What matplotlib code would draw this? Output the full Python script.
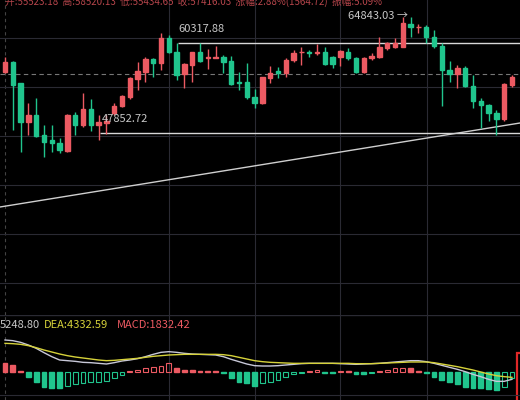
import matplotlib.pyplot as plt
import numpy as np
from matplotlib.patches import Rectangle

plt.rcParams['font.family'] = ['Noto Sans CJK SC', 'DejaVu Sans']

open_lv = [215, 185, 250, 365, 345, 405, 420, 428, 452, 345, 375, 328, 375, 370, 340, 318, 290, 237, 215,
           178, 190, 115, 155, 222, 195, 155, 175, 173, 170, 183, 247, 247, 290, 310, 233, 214, 218, 180,
           157, 155, 160, 155, 172, 172, 155, 173, 215, 175, 172, 143, 140, 140, 72, 82, 80, 112, 137, 210,
           222, 203, 258, 302, 315, 338, 358, 255]
close_lv = [185, 255, 365, 345, 408, 425, 430, 450, 345, 375, 328, 375, 367, 362, 318, 288, 235, 213, 178,
            188, 115, 157, 225, 193, 155, 182, 172, 170, 185, 252, 250, 290, 310, 232, 218, 220, 180, 160,
            155, 160, 155, 192, 192, 153, 173, 215, 175, 168, 142, 130, 130, 70, 82, 80, 112, 137, 210, 222,
            203, 258, 302, 315, 338, 358, 252, 232]
high_lv = [170, 183, 250, 308, 293, 375, 375, 415, 343, 335, 280, 298, 345, 345, 310, 285, 230, 185, 170,
           175, 100, 105, 130, 190, 155, 130, 148, 138, 165, 168, 215, 190, 268, 230, 198, 200, 175, 150,
           140, 150, 133, 140, 168, 150, 145, 170, 170, 160, 110, 125, 115, 50, 50, 72, 75, 90, 130, 182,
           195, 198, 225, 295, 312, 330, 250, 225]
low_lv = [220, 390, 455, 405, 410, 470, 455, 460, 455, 405, 380, 392, 420, 402, 345, 322, 298, 270, 245,
          230, 210, 160, 240, 265, 245, 185, 207, 175, 220, 255, 270, 298, 325, 312, 250, 235, 232, 185,
          195, 172, 165, 195, 205, 198, 180, 220, 218, 180, 175, 150, 145, 142, 112, 98, 130, 145, 318,
          245, 265, 262, 325, 385, 362, 405, 362, 260]

# price scale from the two labelled lines: 60317.88 at level 129, 47852.72 at level 399
p_per_lv = (60317.88 - 47852.72) / (399 - 129)
to_price = lambda lv: 60317.88 - (np.array(lv) - 129) * p_per_lv
opens, closes, highs, lows = map(to_price, (open_lv, close_lv, high_lv, low_lv))

# MACD panel readings (arbitrary units, positive = up)
dif = [95, 93, 88, 80, 70, 57, 45, 35, 33, 31, 28, 27, 25, 23, 27, 32, 35, 39, 45, 52, 58, 60, 58, 55,
       53, 52, 51, 50, 45, 37, 30, 23, 18, 17, 17, 18, 20, 22, 24, 25, 25, 25, 25, 24, 23, 22, 23, 24,
       25, 27, 29, 31, 33, 33, 30, 25, 19, 13, 7, 0, -8, -15, -23, -29, -29, -23]
dea = [85, 84, 82, 78, 72, 65, 59, 53, 48, 44, 41, 38, 35, 33, 34, 36, 38, 40, 43, 46, 48, 50, 51, 52,
       52, 52, 52, 52, 51, 48, 43, 38, 33, 30, 28, 27, 26, 25, 25, 25, 25, 25, 25, 25, 25, 24, 24, 24,
       25, 26, 27, 28, 29, 29, 29, 27, 23, 19, 15, 10, 5, -1, -7, -12, -15, -17]
hist = [25, 20, 3, -15, -30, -45, -50, -50, -42, -38, -35, -32, -30, -28, -18, -10, 3, 5, 10, 15, 18,
        25, 10, 5, 4, 3, 3, 2, -3, -20, -30, -35, -42, -35, -30, -25, -15, -6, -3, 3, 4, -3, -3, 3, 3,
        -8, -8, -3, 3, 5, 10, 12, 10, 3, -3, -15, -25, -30, -38, -45, -48, -50, -52, -55, -45, -20]

RED = '#ec5a62'
GREEN = '#20c58d'
GRID = '#2a2a33'

fig = plt.figure(figsize=(5.2, 4), dpi=100, facecolor='black')
ax = fig.add_axes([0, 1 - 315 / 400, 1, 315 / 400], facecolor='black')
mx = fig.add_axes([0, 0, 1, 85 / 400], facecolor='black')

n = len(opens)
x = np.arange(n)
for a in (ax, mx):
    a.set_xlim(-0.641, 66.03)
    for s in a.spines.values():
        s.set_visible(False)
    a.set_xticks([])
    a.set_yticks([])
    for gx in [21.0, 32.05, 42.95, 54.1]:
        a.axvline(gx, color=GRID, lw=0.8, zorder=0)
    a.axvline(0, color='#444', lw=0.8, ls=(0, (3, 3)), zorder=0)

ax.set_ylim(22646, 66274)
for gy in [61011, 54225, 47438, 40651, 33865, 27078]:
    ax.axhline(gy, color=GRID, lw=0.8, zorder=0)

# candles
for i in range(n):
    c = RED if closes[i] >= opens[i] else GREEN
    ax.vlines(x[i], lows[i], highs[i], color=c, lw=1, zorder=2)
    lo, hi = sorted([opens[i], closes[i]])
    ax.add_patch(Rectangle((x[i] - 0.28, lo), 0.56, max(hi - lo, 60), color=c, zorder=3))

# support / resistance and trend lines
ax.axhline(56025, color='#777', lw=0.8, ls=(0, (4, 3)), zorder=1)
ax.hlines(60317.88, 22.2, 66.03, color='#d8d8d8', lw=1, zorder=1)
ax.hlines(47852.72, 12.2, 66.03, color='#d8d8d8', lw=1, zorder=1)
ax.plot([-0.641, 66.03], [37604, 49238], color='#cfcfcf', lw=1, zorder=1)
ax.text(22.2, 62200, '60317.88', color='#c8c8c8', fontsize=8, ha='left', va='center')
ax.text(12.4, 49800, '47852.72', color='#c8c8c8', fontsize=8, ha='left', va='center')
ax.text(44.0, 64070, '64843.03 →', color='#c8c8c8', fontsize=8, ha='left', va='center')
ax.text(0.0, 66100, '开:55523.18  高:58520.13  低:55434.65  收:57416.03  涨幅:2.88%(1564.72)  振幅:5.09%',
        color='#b5454b', fontsize=7, ha='left', va='center', clip_on=False)

# MACD panel
mx.set_ylim(-85, 170)
mx.axhline(170, color=GRID, lw=1)
mx.axhline(-70, color=GRID, lw=0.8)
mx.plot(x, dif, color='#c8c8d8', lw=1)
mx.plot(x, dea, color='#d6d23a', lw=1)
for i in range(n):
    c = RED if hist[i] >= 0 else GREEN
    hollow = i > 0 and hist[i] > hist[i - 1]
    h = hist[i] if abs(hist[i]) > 1.5 else 1.5
    if hollow:
        mx.add_patch(Rectangle((x[i] - 0.3, 0), 0.6, h, fill=False, ec=c, lw=0.8))
    else:
        mx.add_patch(Rectangle((x[i] - 0.3, 0), 0.6, h, color=c))
mx.add_patch(Rectangle((65.6, -90), 1.2, 145, fill=False, ec='#e02828', lw=1.6, clip_on=True))
mx.text(-0.7, 140, '5248.80', color='#c8c8c8', fontsize=8, ha='left', va='center')
mx.text(5.0, 140, 'DEA:4332.59', color='#d6d23a', fontsize=8, ha='left', va='center')
mx.text(14.4, 140, 'MACD:1832.42', color=RED, fontsize=8, ha='left', va='center')

fig.savefig('out.png', dpi=100, facecolor='black')
